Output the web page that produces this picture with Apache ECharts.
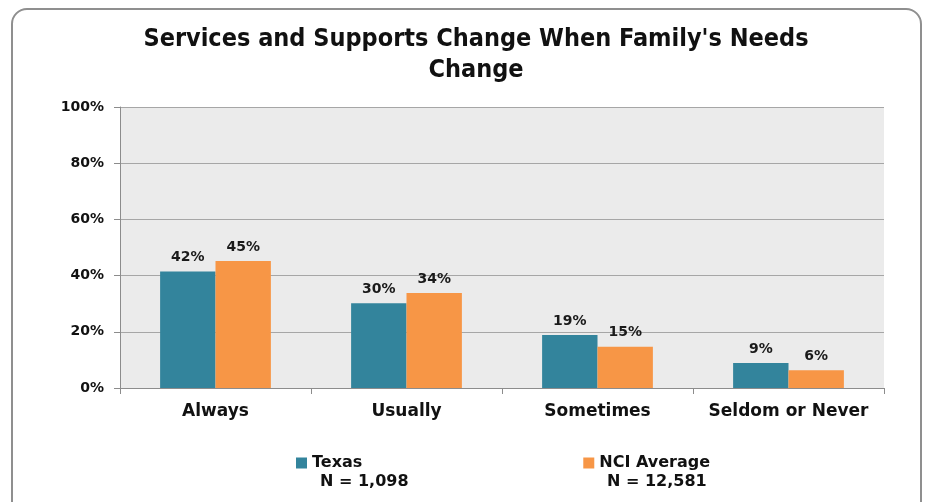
<!DOCTYPE html>
<html>
<head>
<meta charset="utf-8">
<script src="https://cdn.jsdelivr.net/npm/echarts@6/dist/echarts.min.js"></script>
<style>
    html, body { margin: 0; padding: 0; background: #ffffff; }
    #chart { width: 925px; height: 502px; }
    #frame {
        position: absolute; left: 11px; top: 8px; width: 907px; height: 520px;
        border: 2px solid #8f8f8f; border-radius: 16px; pointer-events: none;
    }
</style>
</head>
<body>
<div id="chart"></div>
<div id="frame"></div>
<script>
// Chart data
const categories = ['Always', 'Usually', 'Sometimes', 'Seldom or Never'];
const texasValues = [41.5, 30.2, 18.9, 8.9];
const nciValues = [45.2, 33.8, 14.7, 6.3];
const seriesNames = ['Texas', 'NCI Average'];
const sampleSizes = ['N = 1,098', 'N = 12,581'];
const yTicks = [0, 20, 40, 60, 80, 100];

document.addEventListener('DOMContentLoaded', function() {
    const chartDom = document.getElementById('chart');
    const myChart = echarts.init(chartDom);

    const labelStyle = {
        show: true,
        position: 'top',
        distance: 7,
        fontFamily: 'DejaVu Sans',
        fontWeight: 'bold',
        fontSize: 14,
        color: '#1a1a1a',
        formatter: p => Math.round(p.value) + '%'
    };

    const option = {
        color: ['#33849C', '#F79646'],
        title: {
            text: 'Services and Supports Change When Family\'s Needs\nChange',
            left: 471,
            textAlign: 'center',
            top: 19,
            textStyle: {
                fontFamily: 'Liberation Sans Narrow, DejaVu Sans Condensed, sans-serif',
                fontWeight: 'bold',
                fontSize: 25,
                lineHeight: 31,
                color: '#111'
            }
        },
        grid: {
            left: 120,
            right: 41,
            top: 107,
            bottom: 114,
            show: true,
            backgroundColor: '#ebebeb',
            borderWidth: 0
        },
        legend: {
            left: 291,
            top: 450,
            itemWidth: 11,
            itemHeight: 11,
            itemGap: 221,
            icon: 'rect',
            textStyle: {
                fontFamily: 'DejaVu Sans',
                fontWeight: 'bold',
                fontSize: 16,
                color: '#111'
            },
            data: seriesNames
        },
        graphic: [
            {
                type: 'text', left: 320, top: 474,
                style: { text: sampleSizes[0], font: 'bold 16px "DejaVu Sans"', fill: '#111' }
            },
            {
                type: 'text', left: 607, top: 474,
                style: { text: sampleSizes[1], font: 'bold 16px "DejaVu Sans"', fill: '#111' }
            }
        ],
        xAxis: {
            type: 'category',
            data: categories,
            axisLine: { lineStyle: { color: '#8c8c8c', width: 1 } },
            axisTick: { show: true, interval: 0, length: 6, lineStyle: { color: '#8c8c8c' } },
            axisLabel: {
                interval: 0,
                margin: 15,
                fontFamily: 'DejaVu Sans',
                fontWeight: 'bold',
                fontSize: 17,
                color: '#111'
            }
        },
        yAxis: {
            type: 'value',
            min: yTicks[0],
            max: yTicks[yTicks.length - 1],
            interval: 20,
            axisLine: { show: true, lineStyle: { color: '#8c8c8c' } },
            axisTick: { show: true, length: 6, lineStyle: { color: '#8c8c8c' } },
            splitLine: { lineStyle: { color: '#a6a6a6', width: 1 } },
            axisLabel: {
                margin: 16,
                fontFamily: 'DejaVu Sans',
                fontWeight: 'bold',
                fontSize: 14,
                color: '#111',
                formatter: '{value}%'
            }
        },
        series: [
            {
                name: seriesNames[0],
                type: 'bar',
                data: texasValues,
                barGap: '0%',
                barCategoryGap: '42%',
                label: labelStyle
            },
            {
                name: seriesNames[1],
                type: 'bar',
                data: nciValues,
                label: labelStyle
            }
        ]
    };

    myChart.setOption(option);
});
</script>
</body>
</html>
